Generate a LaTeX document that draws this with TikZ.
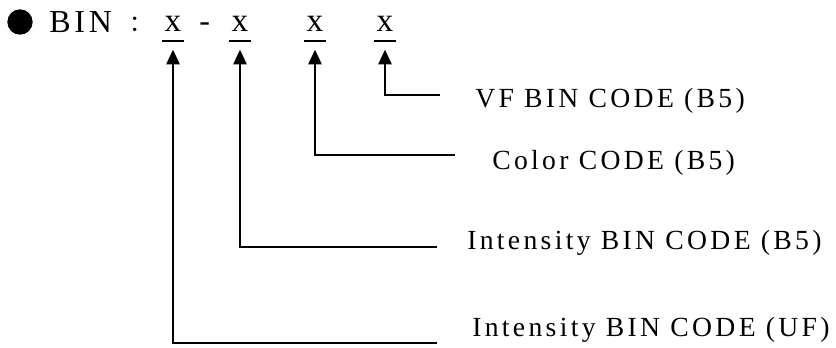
\documentclass[tikz,border=0pt]{standalone}
\usepackage{fontspec}
\setmainfont{Liberation Serif}[LetterSpace=12]
\newfontfamily\cjkfont{Noto Sans CJK SC}
\usetikzlibrary{arrows.meta}
\tikzset{
  head/.style={font=\fontsize{24}{26}\selectfont, inner sep=0pt, anchor=base west},
  code/.style={font=\fontsize{25}{27}\selectfont, inner sep=0pt, anchor=base,
    append after command={([xshift=-2pt,yshift=-7.5pt]\tikzlastnode.base west)
      edge[line width=1.5pt] ([xshift=2pt,yshift=-7.5pt]\tikzlastnode.base east)}},
  desc/.style={font=\fontsize{20.75}{23}\selectfont, inner sep=0pt, anchor=west},
  pointer/.style={line width=1.2pt, -{Triangle[length=11pt,width=10pt]}},
}
\begin{document}
\begin{tikzpicture}[x=0.75pt,y=-0.75pt]
\useasboundingbox (0,0) rectangle (836,347);
% heading
\node[circle, fill, inner sep=0pt, minimum size=19pt] (dot) at (20,22) {};
\node[head] (bin) at (49,32) {BIN};
\node[head, font=\fontsize{17}{20}\selectfont] (colon) at (129,31) {\cjkfont ：};
\node[code] (x1) at (173,31) {x};
\node[head] (dash) at (199,31) {-};
\node[code] (x2) at (240,31) {x};
\node[code] (x3) at (315,31) {x};
\node[code] (x4) at (385,31) {x};
% descriptions
\node[desc] (vf) at (475,101) {VF BIN CODE (B5)};
\node[desc] (color) at (492,163) {Color CODE (B5)};
\node[desc] (intb) at (467,243) {Intensity BIN CODE (B5)};
\node[desc] (intu) at (472,330) {Intensity BIN CODE (UF)};
% line ends
\coordinate (e4) at (440,95);
\coordinate (e3) at (455,155);
\coordinate (e2) at (437,247);
\coordinate (e1) at (437,343);
\draw[pointer] (e4) -| ([yshift=-14pt]x4.base);
\draw[pointer] (e3) -| ([yshift=-14pt]x3.base);
\draw[pointer] (e2) -| ([yshift=-14pt]x2.base);
\draw[pointer] (e1) -| ([yshift=-14pt]x1.base);
\end{tikzpicture}
\end{document}
